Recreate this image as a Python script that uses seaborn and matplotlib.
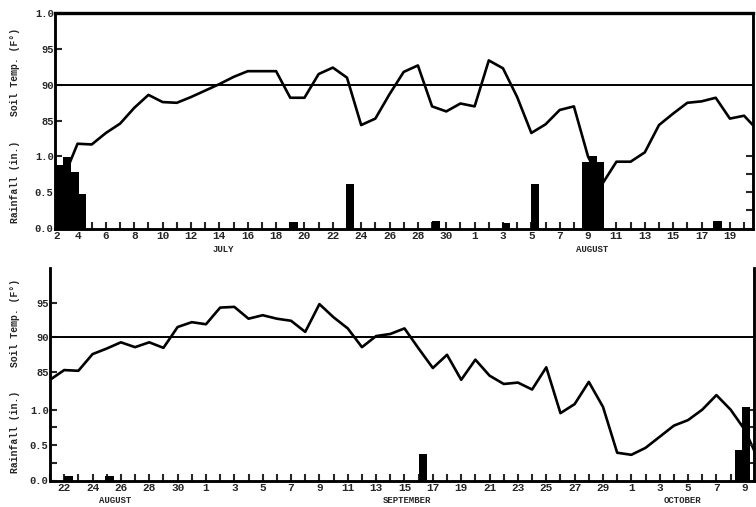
import numpy as np
import matplotlib
matplotlib.use("Agg")
import matplotlib.pyplot as plt
import seaborn as sns
from matplotlib.transforms import blended_transform_factory

# ---------------- data ----------------
# Top panel: days counted from July 2 (day 0); temperature starts July 3 (day 1)
top_temp_start = 1
top_temp = [77.0, 81.8, 81.7, 83.3, 84.6, 86.8, 88.6, 87.6, 87.5, 88.3,
            89.2, 90.1, 91.1, 91.9, 91.9, 91.9, 88.2, 88.2, 91.5, 92.4,
            91.0, 84.4, 85.3, 88.7, 91.8, 92.7, 87.0, 86.3, 87.4, 87.0,
            93.4, 92.3, 88.3, 83.3, 84.5, 86.5, 87.0, 80.0, 76.2, 79.3,
            79.3, 80.6, 84.4, 86.0, 87.5, 87.7, 88.2, 85.3, 85.7, 83.6]
top_rain_day = [0.76, 1.26, 1.82, 2.31, 17.23, 21.2, 27.3, 32.2, 34.26,
                37.86, 38.35, 38.85, 47.13]
top_rain_in = [0.87, 0.98, 0.78, 0.47, 0.09, 0.61, 0.10, 0.08, 0.61,
               0.91, 0.99, 0.91, 0.10]
top_label_days = [0, 2, 4, 6, 8, 10, 12, 14, 16, 18, 20, 22, 24, 26, 28,
                  30, 32, 34, 36, 38, 40, 42, 44, 46, 48]
top_labels = ["2", "4", "6", "8", "10", "12", "14", "16", "18", "20", "22",
              "24", "26", "28", "30", "1", "3", "5", "7", "9", "11", "13",
              "15", "17", "19"]
top_months = ["JULY", "AUGUST"]
top_month_day = [12.3, 38.3]

# Bottom panel: days counted from August 21 (day 0)
bot_temp_start = 0
bot_temp = [83.9, 85.3, 85.2, 87.6, 88.4, 89.3, 88.6, 89.3, 88.5, 91.5,
            92.2, 91.9, 94.3, 94.4, 92.7, 93.2, 92.7, 92.4, 90.8, 94.8,
            92.9, 91.3, 88.6, 90.2, 90.5, 91.3, 88.4, 85.6, 87.5, 83.9,
            86.8, 84.5, 83.3, 83.5, 82.5, 85.7, 79.1, 80.4, 83.6, 80.0,
            73.4, 73.1, 74.1, 75.7, 77.3, 78.1, 79.6, 81.7, 79.6, 76.7, 72.2]
bot_rain_day = [1.3, 4.2, 26.3, 49.1, 48.6]
bot_rain_in = [0.07, 0.06, 0.38, 1.04, 0.43]
bot_label_days = [1, 3, 5, 7, 9, 11, 13, 15, 17, 19, 21, 23, 25, 27, 29,
                  31, 33, 35, 37, 39, 41, 43, 45, 47, 49]
bot_labels = ["22", "24", "26", "28", "30", "1", "3", "5", "7", "9", "11",
              "13", "15", "17", "19", "21", "23", "25", "27", "29", "1", "3",
              "5", "7", "9"]
bot_months = ["AUGUST", "SEPTEMBER", "OCTOBER"]
bot_month_day = [4.6, 25.2, 44.6]

temp_ref = 90
rain_ticks = [0.0, 0.25, 0.5, 0.75, 1.0]
rain_ticklabels = ["0.0", "", "0.5", "", "1.0"]

# ---------------- style ----------------
sns.set_style("ticks")
plt.rcParams["font.family"] = ["Liberation Mono", "DejaVu Sans Mono"]
plt.rcParams["font.weight"] = "bold"

W, H = 756, 507
fig = plt.figure(figsize=(W / 100, H / 100), dpi=100)


def panel(rect, temp_start, temps, rain_day, rain_in, xlim, tlim, rlim,
          tticks, tlabels, label_days, labels, months, month_day,
          top_spine, first_label_text=None):
    ax = fig.add_axes(rect)
    days = np.arange(temp_start, temp_start + len(temps))
    sns.lineplot(x=days, y=temps, ax=ax, color="black", lw=1.9,
                 estimator=None, sort=False)
    ax.axhline(temp_ref, color="black", lw=1.4)
    ax.set_xlim(*xlim)
    ax.set_ylim(*tlim)
    ax.set_yticks(tticks)
    ax.set_yticklabels(tlabels)
    allday = np.arange(int(np.ceil(xlim[0])), int(np.floor(xlim[1])) + 1)
    lab = dict(zip(label_days, labels))
    ax.set_xticks(allday)
    ax.set_xticklabels([lab.get(d, "") for d in allday])
    ax.tick_params(axis="both", direction="in", length=5, width=1.5,
                   labelsize=8, pad=1.5, right=True, labelright=False)
    ax.tick_params(axis="y", labelsize=7.5, pad=1)

    axr = ax.twinx()
    axr.bar(rain_day, rain_in, width=0.58, color="black", align="center",
            edgecolor="black", linewidth=0)
    axr.set_ylim(*rlim)
    axr.yaxis.tick_left()
    axr.set_yticks(rain_ticks)
    axr.set_yticklabels(rain_ticklabels)
    axr.tick_params(axis="y", direction="in", length=5, width=1.5,
                    labelsize=7.5, pad=1, left=True, right=True,
                    labelleft=True, labelright=False)
    for a in (ax, axr):
        for s in a.spines.values():
            s.set_linewidth(1.8)
            s.set_color("black")
        a.spines["top"].set_visible(top_spine)
        a.set_xlabel("")
        a.set_ylabel("")
    ax.spines["top"].set_linewidth(2.4)

    tr = blended_transform_factory(ax.transData, ax.transAxes)
    if first_label_text is not None:
        ax.text(xlim[0] + 0.15, -0.012, first_label_text, transform=tr,
                ha="center", va="top", fontsize=8)
    for m, d in zip(months, month_day):
        ax.text(d, -0.075, m, transform=tr, ha="center", va="top",
                fontsize=6.5)
    return ax


# Top panel: July 2 – Aug 20
panel([55 / W, 1 - 228.5 / H, (753 - 55) / W, 215.5 / H],
      top_temp_start, top_temp, top_rain_day, top_rain_in,
      (0.41, 49.63), (70.0, 100.0), (0, 2.96),
      [85, 90, 95, 100], ["85", "90", "95", "1.0"],
      top_label_days[1:], top_labels[1:], top_months, top_month_day,
      True, first_label_text=top_labels[0])

# Bottom panel: Aug 21 – Oct 10
panel([50 / W, 1 - 480.5 / H, (754 - 50) / W, 212.5 / H],
      bot_temp_start, bot_temp, bot_rain_day, bot_rain_in,
      (0.0, 49.65), (69.4, 100.0), (0, 3.0),
      [85, 90, 95], ["85", "90", "95"],
      bot_label_days, bot_labels, bot_months, bot_month_day,
      False)

# y-axis titles
for yc, txt in [(72, "Soil Temp. (F°)"), (182, "Rainfall (in.)"),
                (323, "Soil Temp. (F°)"), (432, "Rainfall (in.)")]:
    fig.text(15 / W, 1 - yc / H, txt, rotation=90, ha="center",
             va="center", fontsize=7)

fig.savefig("out.png", dpi=100)
